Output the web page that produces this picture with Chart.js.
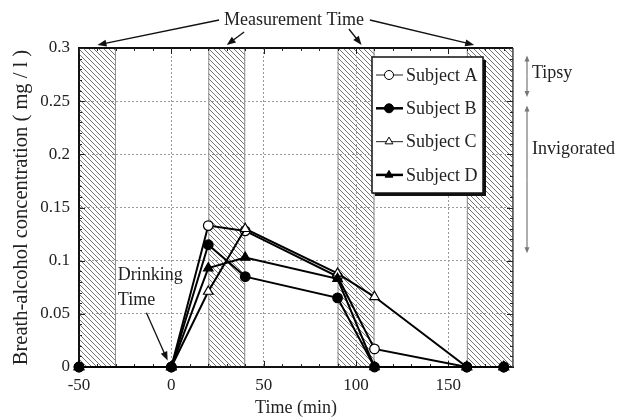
<!DOCTYPE html>
<html>
<head>
<meta charset="utf-8">
<script src="https://cdn.jsdelivr.net/npm/chart.js@4.4.0/dist/chart.umd.min.js"></script>
<style>
  html, body { margin: 0; padding: 0; background: #fff; }
  #wrap { width: 626px; height: 419px; }
</style>
</head>
<body>
<div id="wrap"><canvas id="chart1" width="626" height="419"></canvas></div>
<script>
// values
const times = [-50, 0, 20, 40, 90, 110, 160, 180];
const subjectA = [0, 0, 0.133, 0.128, 0.085, 0.017, 0, 0];
const subjectB = [0, 0, 0.115, 0.085, 0.065, 0, 0, 0];
const subjectC = [0, 0, 0.071, 0.130, 0.088, 0.066, 0, 0];
const subjectD = [0, 0, 0.093, 0.103, 0.083, 0, 0, 0];
const names = ['Subject A', 'Subject B', 'Subject C', 'Subject D'];
const xTicks = [-50, 0, 50, 100, 150];
const yTicks = [0, 0.05, 0.1, 0.15, 0.2, 0.25, 0.3];
// hatched measurement windows (min)
const measureStart = [-50, 20, 90, 160];
const measureEnd = [-30, 40, 110, 185];
// where the "Measurement Time" arrows point (min)
const measureArrowTo = [-40, 30, 103, 164];
// state bands on the right (mg/l)
const tipsyBand = [0.293, 0.254];
const invigBand = [0.246, 0.107];

const serif = "'Liberation Serif', 'DejaVu Serif', serif";
const ink = '#222';

const hatch = (() => {
  const c = document.createElement('canvas');
  c.width = 5; c.height = 5;
  const g = c.getContext('2d');
  g.strokeStyle = '#757575';
  g.lineWidth = 1;
  g.beginPath();
  g.moveTo(0, 0); g.lineTo(5, 5);
  g.moveTo(-1, 4); g.lineTo(1, 6);
  g.moveTo(4, -1); g.lineTo(6, 1);
  g.stroke();
  return c;
})();

function arrow(ctx, x0, y0, x1, y1, len, half) {
  const ang = Math.atan2(y1 - y0, x1 - x0);
  ctx.beginPath();
  ctx.moveTo(x0, y0);
  ctx.lineTo(x1 - Math.cos(ang) * len * 0.6, y1 - Math.sin(ang) * len * 0.6);
  ctx.stroke();
  ctx.beginPath();
  ctx.moveTo(x1, y1);
  ctx.lineTo(x1 - Math.cos(ang) * len - Math.sin(ang) * half, y1 - Math.sin(ang) * len + Math.cos(ang) * half);
  ctx.lineTo(x1 - Math.cos(ang) * len + Math.sin(ang) * half, y1 - Math.sin(ang) * len - Math.cos(ang) * half);
  ctx.closePath();
  ctx.fill();
}

const decor = {
  id: 'decor',
  beforeDraw(chart) {
    const {ctx, chartArea: a, scales: {x}} = chart;
    ctx.save();
    ctx.fillStyle = '#fff';
    ctx.fillRect(0, 0, chart.width, chart.height);
    ctx.fillStyle = ctx.createPattern(hatch, 'repeat');
    ctx.strokeStyle = '#8a8a8a';
    ctx.lineWidth = 1;
    measureStart.forEach((s, i) => {
      const x0 = x.getPixelForValue(s), x1 = x.getPixelForValue(measureEnd[i]);
      ctx.fillRect(x0, a.top, x1 - x0, a.bottom - a.top);
      ctx.strokeRect(x0 + 0.5, a.top, x1 - x0 - 1, a.bottom - a.top);
    });
    ctx.restore();
  },
  beforeDatasetsDraw(chart) {
    const {ctx, chartArea: a, scales: {x, y}} = chart;
    ctx.save();
    // frame
    ctx.strokeStyle = '#111';
    ctx.lineWidth = 2;
    ctx.beginPath();
    ctx.moveTo(a.left, a.bottom); ctx.lineTo(a.left, a.top); ctx.lineTo(a.right, a.top);
    ctx.stroke();
    ctx.strokeStyle = '#555';
    ctx.lineWidth = 1.5;
    ctx.beginPath();
    ctx.moveTo(a.right, a.top); ctx.lineTo(a.right, a.bottom);
    ctx.stroke();
    // inward ticks
    ctx.strokeStyle = '#222';
    ctx.lineWidth = 1;
    ctx.beginPath();
    for (let t = -50; t <= 180; t += 10) {
      const px = Math.round(x.getPixelForValue(t)) + 0.5;
      const len = t % 50 === 0 ? 6 : 3;
      ctx.moveTo(px, a.bottom); ctx.lineTo(px, a.bottom - len);
      ctx.moveTo(px, a.top); ctx.lineTo(px, a.top + len);
    }
    for (let k = 0; k <= 30; k++) {
      const py = Math.round(y.getPixelForValue(k / 100)) + 0.5;
      const len = k % 5 === 0 ? 6 : 3;
      ctx.moveTo(a.left, py); ctx.lineTo(a.left + len, py);
      ctx.moveTo(a.right, py); ctx.lineTo(a.right - len, py);
    }
    ctx.stroke();
    ctx.restore();
  },
  afterDatasetsDraw(chart) {
    const {ctx, chartArea: a, scales: {x, y}} = chart;
    ctx.save();
    // legend box
    const lx = a.right - 141, ly = a.top + 9, lw = 111, lh = 136;
    ctx.fillStyle = '#111';
    ctx.fillRect(lx + 3, ly + 3, lw, lh);
    ctx.fillStyle = '#fff';
    ctx.fillRect(lx, ly, lw, lh);
    ctx.strokeStyle = '#111';
    ctx.lineWidth = 1.5;
    ctx.strokeRect(lx, ly, lw, lh);
    ctx.font = '18px ' + serif;
    ctx.textBaseline = 'middle';
    chart.data.datasets.forEach((ds, i) => {
      const cy = ly + 18 + i * 33.3;
      const open = ds.pointBackgroundColor === '#fff';
      ctx.strokeStyle = open ? '#444' : '#000';
      ctx.lineWidth = open ? 1.2 : 2.5;
      ctx.beginPath();
      ctx.moveTo(lx + 4, cy); ctx.lineTo(lx + 31, cy);
      ctx.stroke();
      ctx.fillStyle = ds.pointBackgroundColor;
      ctx.strokeStyle = '#000';
      ctx.lineWidth = 1;
      Chart.helpers.drawPoint(ctx, {pointStyle: ds.pointStyle, radius: 4.5, rotation: 0, borderWidth: 1}, lx + 17, cy);
      ctx.fillStyle = ink;
      ctx.textAlign = 'left';
      ctx.fillText(ds.label, lx + 34, cy + 1);
    });

    // "Measurement Time" with arrows
    const tx = (a.left + a.right) / 2 - 2, ty = a.top - 28;
    ctx.font = '18px ' + serif;
    ctx.textAlign = 'center';
    ctx.fillStyle = ink;
    ctx.fillText('Measurement Time', tx, ty);
    const w = ctx.measureText('Measurement Time').width;
    const starts = [[tx - w / 2 - 5, ty], [tx - w / 2 + 20, ty + 12], [tx + w / 2 - 15, ty + 9], [tx + w / 2 + 6, ty]];
    ctx.strokeStyle = '#111';
    ctx.fillStyle = '#111';
    ctx.lineWidth = 1.3;
    measureArrowTo.forEach((t, i) => {
      arrow(ctx, starts[i][0], starts[i][1], x.getPixelForValue(t), a.top - 3, 9, 3.5);
    });

    // drinking time
    ctx.fillStyle = ink;
    ctx.textAlign = 'left';
    ctx.fillText('Drinking', x.getPixelForValue(-29), y.getPixelForValue(0.086));
    ctx.fillText('Time', x.getPixelForValue(-29), y.getPixelForValue(0.063));
    ctx.fillStyle = '#111';
    arrow(ctx, x.getPixelForValue(-13.5), y.getPixelForValue(0.051), x.getPixelForValue(-2), y.getPixelForValue(0.006), 9, 3.5);

    // state bands
    const bx = a.right + 14;
    ctx.strokeStyle = '#777';
    ctx.fillStyle = '#777';
    ctx.lineWidth = 1.2;
    [tipsyBand, invigBand].forEach(b => {
      const y0 = y.getPixelForValue(b[0]), y1 = y.getPixelForValue(b[1]);
      arrow(ctx, bx, (y0 + y1) / 2, bx, y0, 6, 2.5);
      arrow(ctx, bx, (y0 + y1) / 2, bx, y1, 6, 2.5);
    });
    ctx.fillStyle = ink;
    ctx.textAlign = 'left';
    ctx.fillText('Tipsy', bx + 5, y.getPixelForValue(0.276));
    ctx.fillText('Invigorated', bx + 5, y.getPixelForValue(0.205));
    ctx.restore();
  }
};

const gridColor = edge => ctx => (ctx.tick && (ctx.tick.value === edge[0] || ctx.tick.value === edge[1])) ? 'rgba(0,0,0,0)' : '#9a9a9a';

const mk = (label, values, style, fill, order) => ({
  label: label,
  data: times.map((t, i) => ({x: t, y: values[i]})),
  borderColor: '#000',
  borderWidth: 2,
  pointStyle: style,
  pointRadius: style === 'triangle' ? 5.5 : 4.8,
  pointBackgroundColor: fill,
  pointBorderColor: '#000',
  pointBorderWidth: 1.2,
  tension: 0,
  clip: false,
  order: order
});

new Chart(document.getElementById('chart1'), {
  type: 'line',
  data: {
    datasets: [
      mk(names[0], subjectA, 'circle', '#fff', 3),
      mk(names[1], subjectB, 'circle', '#000', 0),
      mk(names[2], subjectC, 'triangle', '#fff', 2),
      mk(names[3], subjectD, 'triangle', '#000', 1)
    ]
  },
  options: {
    responsive: false,
    animation: false,
    devicePixelRatio: 1,
    layout: { padding: { left: 0, right: 113, top: 48, bottom: 0 } },
    plugins: { legend: { display: false }, tooltip: { enabled: false } },
    scales: {
      x: {
        type: 'linear',
        min: -50,
        max: 185,
        afterBuildTicks: s => { s.ticks = xTicks.map(v => ({value: v})); },
        afterFit: s => { s.height = 52; },
        grid: { color: gridColor([-50, 185]), lineWidth: 1, drawTicks: false },
        border: { display: true, color: '#111', width: 2, dash: [2, 2] },
        ticks: { color: ink, font: { family: serif, size: 17 }, padding: 8, maxRotation: 0 },
        title: { display: true, text: 'Time (min)', color: ink, font: { family: serif, size: 18 }, padding: { top: 0, bottom: 0 } }
      },
      y: {
        min: 0,
        max: 0.3,
        afterBuildTicks: s => { s.ticks = yTicks.map(v => ({value: v})); },
        afterFit: s => { s.width = 79; },
        grid: { color: gridColor([0, 0.3]), lineWidth: 1, drawTicks: false },
        border: { display: true, color: '#111', width: 2, dash: [2, 2] },
        ticks: { color: ink, font: { family: serif, size: 17 }, padding: 9, callback: v => String(+v.toFixed(2)) },
        title: { display: true, text: 'Breath-alcohol concentration ( mg / l )', color: ink, font: { family: serif, size: 20.5 }, padding: { top: 9, bottom: 0 } }
      }
    }
  },
  plugins: [decor]
});
</script>
</body>
</html>
